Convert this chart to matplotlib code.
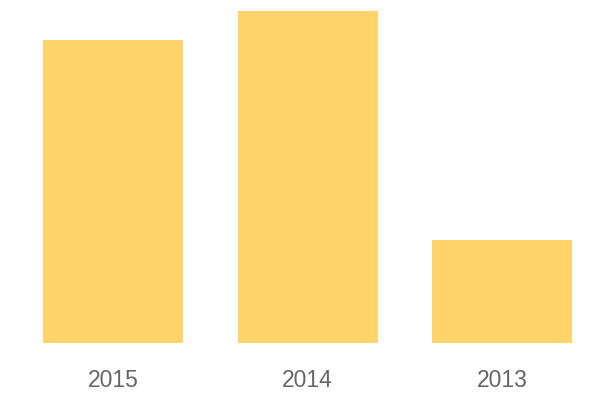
import matplotlib
matplotlib.use("Agg")
import matplotlib.pyplot as plt

categories = ["2015", "2014", "2013"]
values = [303, 332, 103]

bar_color = "#FED46A"
label_color = "#666666"

fig = plt.figure(figsize=(6, 4), dpi=100)
ax = fig.add_axes([0, 57/400, 1, 343/400])
x = list(range(len(categories)))
ax.bar(x, values, width=140/194.5, color=bar_color, edgecolor="none")
ax.set_xlim(-113/194.5, (600-113)/194.5)
ax.set_ylim(0, 343)
ax.set_xticks(x)
ax.set_xticklabels(categories, fontfamily="Liberation Sans", fontsize=16.5, color=label_color)
ax.tick_params(axis="x", length=0, pad=18.5)
ax.set_yticks([])
for s in ax.spines.values():
    s.set_visible(False)
ax.patch.set_alpha(0)
fig.savefig("out.png", dpi=100)
